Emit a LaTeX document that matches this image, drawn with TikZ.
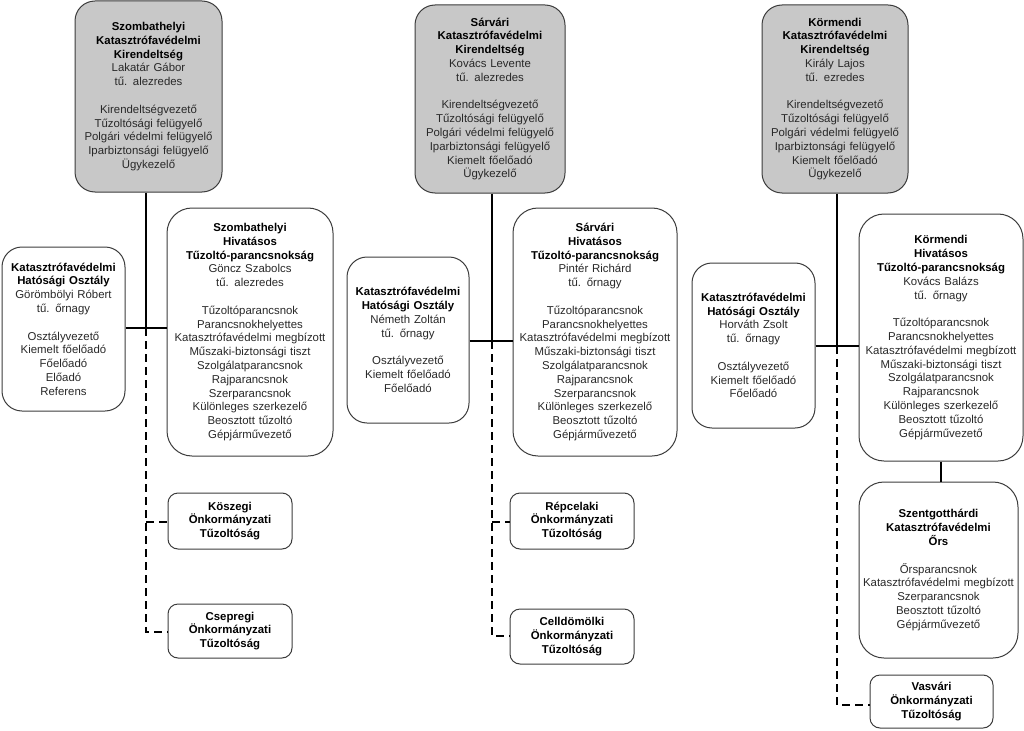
\documentclass[tikz,border=0pt]{standalone}
\usepackage{fontspec}
\setmainfont{Liberation Sans}
\definecolor{boxfill}{RGB}{200,200,200}
\definecolor{boxline}{RGB}{60,60,60}
\definecolor{txtgray}{RGB}{40,40,40}
\newcommand{\ttl}[1]{{\bfseries\color{black}#1}}
\begin{document}
\begin{tikzpicture}[x=1pt,y=-1pt,
  box/.style={draw=boxline, line width=1pt, rounded corners=20pt, align=center, inner sep=0pt,
    font=\fontsize{11.4}{13.8}\selectfont, text=txtgray, fill=white},
  graybox/.style={box, fill=boxfill},
  smallbox/.style={box, rounded corners=10pt, minimum width=124pt, text width=120pt},
  solidline/.style={draw=black, line width=2.2pt},
  dashline/.style={draw=black, line width=2.2pt, dash pattern=on 8pt off 5pt}
]
\useasboundingbox (0,0) rectangle (1024,730);

% ---------- left column ----------
\node[graybox, minimum width=147pt, minimum height=191pt, text width=145pt] (K1) at (148.5,96.5)
 {\ttl{Szombathelyi\\Katasztrófavédelmi\\Kirendeltség}\\Lakatár Gábor\\tű. alezredes\\[13.8pt]
  Kirendeltségvezető\\Tűzoltósági felügyelő\\Polgári védelmi felügyelő\\Iparbiztonsági felügyelő\\Ügykezelő};
\node[box, minimum width=123pt, minimum height=164pt, text width=122pt] (H1) at (63.5,329)
 {\ttl{Katasztrófavédelmi\\Hatósági Osztály}\\Görömbölyi Róbert\\tű. őrnagy\\[13.8pt]
  Osztályvezető\\Kiemelt főelőadó\\Főelőadó\\Előadó\\Referens};
\node[box, rounded corners=25pt, minimum width=166pt, minimum height=248pt, text width=164pt] (T1) at (250,332)
 {\ttl{Szombathelyi\\Hivatásos\\Tűzoltó-parancsnokság}\\Göncz Szabolcs\\tű. alezredes\\[13.8pt]
  Tűzoltóparancsnok\\Parancsnokhelyettes\\Katasztrófavédelmi megbízott\\Műszaki-biztonsági tiszt\\
  Szolgálatparancsnok\\Rajparancsnok\\Szerparancsnok\\Különleges szerkezelő\\Beosztott tűzoltó\\Gépjárművezető};
\node[smallbox, minimum height=56pt] (O1a) at (230,521) {\ttl{Köszegi\\Önkormányzati\\Tűzoltóság}};
\node[smallbox, minimum height=54pt] (O1b) at (230,631) {\ttl{Csepregi\\Önkormányzati\\Tűzoltóság}};

\coordinate (j1) at (146,328);
\coordinate (d1a) at (146,522);
\coordinate (d1b) at (146,632);
\draw[solidline] (K1.south -| j1) -- (j1);
\draw[solidline] (H1.east |- j1) -- (T1.west |- j1);
\draw[dashline] (j1) -- (d1b) -- (O1b.west |- d1b);
\draw[dashline] (d1a) -- (O1a.west |- d1a);

% ---------- middle column ----------
\node[graybox, minimum width=150pt, minimum height=188pt, text width=148pt] (K2) at (490,99)
 {\ttl{Sárvári\\Katasztrófavédelmi\\Kirendeltség}\\Kovács Levente\\tű. alezredes\\[13.8pt]
  Kirendeltségvezető\\Tűzoltósági felügyelő\\Polgári védelmi felügyelő\\Iparbiztonsági felügyelő\\Kiemelt főelőadó\\Ügykezelő};
\node[box, minimum width=122pt, minimum height=166pt, text width=121pt] (H2) at (408,340)
 {\ttl{Katasztrófavédelmi\\Hatósági Osztály}\\Németh Zoltán\\tű. őrnagy\\[13.8pt]
  Osztályvezető\\Kiemelt főelőadó\\Főelőadó};
\node[box, rounded corners=25pt, minimum width=164pt, minimum height=248pt, text width=162pt] (T2) at (595,332)
 {\ttl{Sárvári\\Hivatásos\\Tűzoltó-parancsnokság}\\Pintér Richárd\\tű. őrnagy\\[13.8pt]
  Tűzoltóparancsnok\\Parancsnokhelyettes\\Katasztrófavédelmi megbízott\\Műszaki-biztonsági tiszt\\
  Szolgálatparancsnok\\Rajparancsnok\\Szerparancsnok\\Különleges szerkezelő\\Beosztott tűzoltó\\Gépjárművezető};
\node[smallbox, minimum height=56pt] (O2a) at (572,521) {\ttl{Répcelaki\\Önkormányzati\\Tűzoltóság}};
\node[smallbox, minimum height=55pt] (O2b) at (572,636.5) {\ttl{Celldömölki\\Önkormányzati\\Tűzoltóság}};

\coordinate (j2) at (492,341);
\coordinate (d2a) at (492,522);
\coordinate (d2b) at (492,636);
\draw[solidline] (K2.south -| j2) -- (j2);
\draw[solidline] (H2.east |- j2) -- (T2.west |- j2);
\draw[dashline] (j2) -- (d2b) -- (O2b.west |- d2b);
\draw[dashline] (d2a) -- (O2a.west |- d2a);

% ---------- right column ----------
\node[graybox, minimum width=146pt, minimum height=188pt, text width=144pt] (K3) at (835,99)
 {\ttl{Körmendi\\Katasztrófavédelmi\\Kirendeltség}\\Király Lajos\\tű. ezredes\\[13.8pt]
  Kirendeltségvezető\\Tűzoltósági felügyelő\\Polgári védelmi felügyelő\\Iparbiztonsági felügyelő\\Kiemelt főelőadó\\Ügykezelő};
\node[box, minimum width=123pt, minimum height=165pt, text width=122pt] (H3) at (753.5,345.5)
 {\ttl{Katasztrófavédelmi\\Hatósági Osztály}\\Horváth Zsolt\\tű. őrnagy\\[13.8pt]
  Osztályvezető\\Kiemelt főelőadó\\Főelőadó};
\node[box, rounded corners=25pt, minimum width=164pt, minimum height=247pt, text width=162pt] (T3) at (941,337.5)
 {\ttl{Körmendi\\Hivatásos\\Tűzoltó-parancsnokság}\\Kovács Balázs\\tű. őrnagy\\[13.8pt]
  Tűzoltóparancsnok\\Parancsnokhelyettes\\Katasztrófavédelmi megbízott\\Műszaki-biztonsági tiszt\\
  Szolgálatparancsnok\\Rajparancsnok\\Különleges szerkezelő\\Beosztott tűzoltó\\Gépjárművezető};
\node[box, rounded corners=25pt, minimum width=159pt, minimum height=176pt, text width=158pt] (S3) at (938.5,570)
 {\ttl{Szentgotthárdi\\Katasztrófavédelmi\\Őrs}\\[13.8pt]
  Őrsparancsnok\\Katasztrófavédelmi megbízott\\Szerparancsnok\\Beosztott tűzoltó\\Gépjárművezető};
\node[smallbox, minimum width=123pt, minimum height=53pt] (O3) at (931.5,701.5) {\ttl{Vasvári\\Önkormányzati\\Tűzoltóság}};

\coordinate (j3) at (837,346);
\coordinate (d3) at (837,705);
\draw[solidline] (K3.south -| j3) -- (j3);
\draw[solidline] (H3.east |- j3) -- (T3.west |- j3);
\draw[dashline] (j3) -- (d3) -- (O3.west |- d3);
\draw[solidline] (T3.south) -- (T3.south |- S3.north);
\end{tikzpicture}
\end{document}
